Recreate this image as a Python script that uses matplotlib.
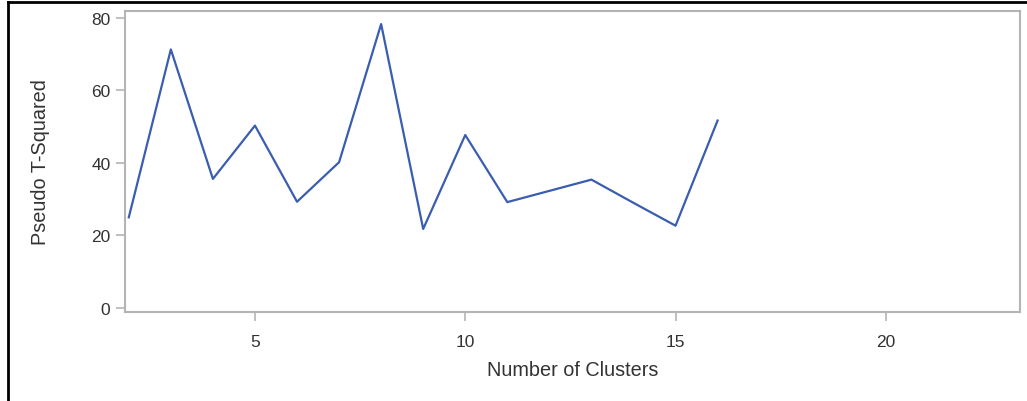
import matplotlib.pyplot as plt
from matplotlib.lines import Line2D

plt.rcParams['font.family'] = ['Liberation Sans', 'DejaVu Sans']

clusters = [2, 3, 4, 5, 6, 7, 8, 9, 10, 11, 12, 13, 14, 15, 16]
pseudo_t2 = [25.0, 71.3, 35.6, 50.3, 29.3, 40.2, 78.3, 21.8, 47.7, 29.2,
             32.3, 35.4, 29.0, 22.7, 51.7]
x_ticks = [5, 10, 15, 20]
y_ticks = [0, 20, 40, 60, 80]

grey = '#b4b4b4'
text_col = '#333333'

fig = plt.figure(figsize=(10.27, 4.02), dpi=100)
ax = fig.add_axes([125 / 1027, 89 / 402, 895 / 1027, 301 / 402])

ax.plot(clusters, pseudo_t2, color='#3a5db0', linewidth=1.6)

ax.set_xlim(1.91, 23.19)
ax.set_ylim(-1.1, 81.9)
ax.set_xticks(x_ticks)
ax.set_yticks(y_ticks)
ax.tick_params(length=6.5, width=1.2, color=grey, labelsize=12.5,
               labelcolor=text_col)
ax.tick_params(axis='x', pad=9)
ax.tick_params(axis='y', pad=4)
for sp in ax.spines.values():
    sp.set_color(grey)
    sp.set_linewidth(1.5)

ax.set_xlabel('Number of Clusters', fontsize=14.3, color=text_col, labelpad=8.5)
ax.set_ylabel('Pseudo T-Squared', fontsize=14.3, color=text_col, labelpad=30)

# black frame on the left and top edges of the picture
fig.add_artist(Line2D([8 / 1027, 8 / 1027], [0, 399 / 402],
                      transform=fig.transFigure, color='black', linewidth=2))
fig.add_artist(Line2D([8 / 1027, 1], [399 / 402, 399 / 402],
                      transform=fig.transFigure, color='black', linewidth=2))

fig.savefig('out.png', dpi=100)
